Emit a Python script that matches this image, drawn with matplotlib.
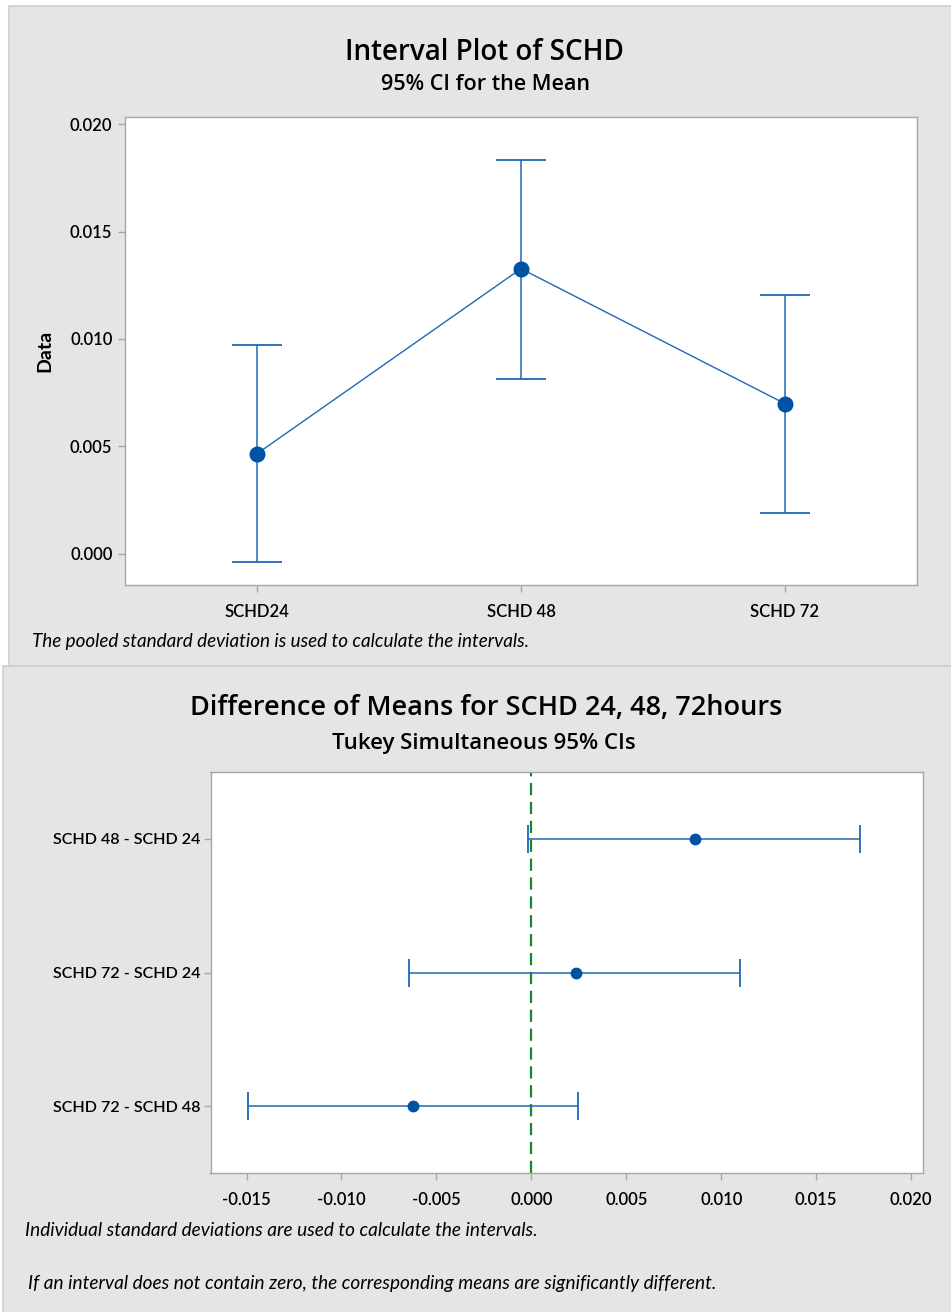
import matplotlib
matplotlib.use("Agg")
import matplotlib.pyplot as plt
from matplotlib.patches import Rectangle

# ---- data ----
groups = ["SCHD24", "SCHD 48", "SCHD 72"]
group_means = [0.00466, 0.01327, 0.00699]
group_lower = [-0.00037, 0.00813, 0.00188]
group_upper = [0.00973, 0.01832, 0.01206]

pairs = ["SCHD 48 - SCHD 24", "SCHD 72 - SCHD 24", "SCHD 72 - SCHD 48"]
diff_centers = [0.00861, 0.00237, -0.00624]
diff_lower = [-0.00016, -0.00645, -0.01495]
diff_upper = [0.01731, 0.01097, 0.00247]

y_ticks_top = [0.000, 0.005, 0.010, 0.015, 0.020]
x_ticks_bottom = [-0.015, -0.010, -0.005, 0.000, 0.005, 0.010, 0.015, 0.020]

# ---- styling ----
W, H = 951, 1312
DPI = 100
PANEL = "#e5e5e5"
EDGE = "#cfcfcf"
SPINE = "#a6a6a6"
BLUE_DOT = "#0052a3"
BLUE_LINE = "#1f68b8"
GREEN = "#13892b"
TXT_FONT = ["Lato", "DejaVu Sans"]
TITLE_FONT = ["Open Sans", "DejaVu Sans"]
TICK_WEIGHT = "semibold"

plt.rcParams["font.family"] = TXT_FONT

fig = plt.figure(figsize=(W / DPI, H / DPI), dpi=DPI, facecolor="white")


def frac_rect(x0, y0, x1, y1):
    """Pixel box (top-left origin) -> figure-fraction [l, b, w, h]."""
    return [x0 / W, 1 - y1 / H, (x1 - x0) / W, (y1 - y0) / H]


def fx(x):
    return x / W


def fy(y):
    return 1 - y / H


# background panels
for (x0, y0, x1, y1) in [(9, 6, 960, 666), (3, 666, 960, 1320)]:
    l, b, w, h = frac_rect(x0, y0, x1, y1)
    fig.patches.append(Rectangle((l, b), w, h, transform=fig.transFigure,
                                 facecolor=PANEL, edgecolor=EDGE, linewidth=1.2,
                                 zorder=-10))


def style_axes(ax):
    for s in ax.spines.values():
        s.set_color(SPINE)
        s.set_linewidth(1.0)
    ax.tick_params(colors=SPINE, labelcolor="black", length=5, width=1.0,
                   direction="out", labelsize=12)
    ax.set_facecolor("white")


# ---- top: interval plot ----
ax1 = fig.add_axes(frac_rect(125, 117, 917, 585))
style_axes(ax1)
xpos = list(range(len(groups)))
yerr = [[m - lo for m, lo in zip(group_means, group_lower)],
        [hi - m for m, hi in zip(group_means, group_upper)]]
ax1.errorbar(xpos, group_means, yerr=yerr, fmt="none", ecolor=BLUE_LINE,
             elinewidth=1.1, capsize=18, capthick=1.3, zorder=2)
ax1.plot(xpos, group_means, color=BLUE_LINE, linewidth=1.0, zorder=3)
ax1.plot(xpos, group_means, "o", color=BLUE_DOT, markersize=10.5, zorder=4)
ax1.set_xlim(-0.5, 2.5)
ax1.set_ylim(-0.00145, 0.02033)
ax1.set_xticks(xpos)
ax1.set_xticklabels(groups, fontsize=12, fontweight=TICK_WEIGHT)
ax1.set_yticks(y_ticks_top)
ax1.set_yticklabels([f"{v:.3f}" for v in y_ticks_top], fontsize=12,
                    fontweight=TICK_WEIGHT)
ax1.tick_params(axis="x", pad=9)
ax1.tick_params(axis="y", pad=4)
ax1.set_ylabel("Data", fontsize=14, fontweight="bold", labelpad=12)

fig.text(fx(484), fy(52), "Interval Plot of SCHD", ha="center", va="center",
         fontsize=20, fontweight="semibold", family=TITLE_FONT)
fig.text(fx(485), fy(85), "95% CI for the Mean", ha="center", va="center",
         fontsize=15.5, fontweight="semibold", family=TITLE_FONT)
fig.text(fx(32), fy(642), "The pooled standard deviation is used to calculate the intervals.",
         ha="left", va="center", fontsize=13.6, style="italic")

# ---- bottom: Tukey difference plot ----
ax2 = fig.add_axes(frac_rect(210.5, 772, 923, 1173))
style_axes(ax2)
ypos = list(range(1, len(pairs) + 1))
xerr = [[c - lo for c, lo in zip(diff_centers, diff_lower)],
        [hi - c for c, hi in zip(diff_centers, diff_upper)]]
ax2.axvline(0, color=GREEN, linestyle=(0, (5.5, 3)), linewidth=1.6, zorder=1)
ax2.errorbar(diff_centers, ypos, xerr=xerr, fmt="none", ecolor=BLUE_LINE,
             elinewidth=1.1, capsize=10, capthick=1.3, zorder=2)
ax2.plot(diff_centers, ypos, "o", color=BLUE_DOT, markersize=7.5, zorder=4)
ax2.set_ylim(3.5, 0.5)
ax2.set_xlim(-0.0169, 0.02063)
ax2.set_yticks(ypos)
ax2.set_yticklabels(pairs, fontsize=11.6, fontweight=TICK_WEIGHT)
ax2.set_xticks(x_ticks_bottom)
ax2.set_xticklabels([f"{v:.3f}" for v in x_ticks_bottom], fontsize=12,
                    fontweight=TICK_WEIGHT)
ax2.tick_params(axis="x", pad=9)
ax2.tick_params(axis="y", pad=2)

fig.text(fx(486), fy(708), "Difference of Means for SCHD 24, 48, 72hours",
         ha="center", va="center", fontsize=19.5, fontweight="semibold",
         family=TITLE_FONT)
fig.text(fx(484), fy(743), "Tukey Simultaneous 95% CIs", ha="center",
         va="center", fontsize=16, fontweight="semibold", family=TITLE_FONT)
fig.text(fx(25), fy(1231), "Individual standard deviations are used to calculate the intervals.",
         ha="left", va="center", fontsize=13.7, style="italic")
fig.text(fx(28), fy(1283),
         "If an interval does not contain zero, the corresponding means are significantly different.",
         ha="left", va="center", fontsize=13.7, style="italic")

fig.savefig("out.png", dpi=DPI, facecolor="white")
